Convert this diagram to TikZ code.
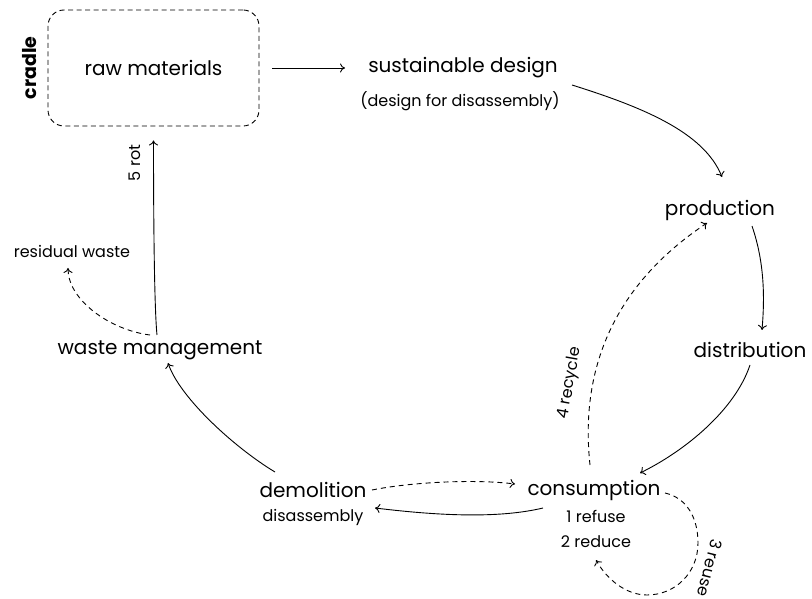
\documentclass[tikz,border=0pt]{standalone}
\usepackage{fontspec}
\setmainfont{Poppins}
\usetikzlibrary{arrows.meta,calc}
\begin{document}
\begin{tikzpicture}[x=1pt,y=1pt,
  lbl/.style={inner sep=2pt,font=\fontsize{20}{22}\selectfont},
  sml/.style={inner sep=2pt,font=\fontsize{16}{18}\selectfont},
  arr/.style={-{To[length=5pt,width=9pt]},line width=0.9pt},
  dsh/.style={arr,dash pattern=on 5pt off 4pt}]
\useasboundingbox (0,0) rectangle (812,598);
\node[lbl,draw,dash pattern=on 5pt off 3.5pt,line width=0.9pt,rounded corners=16pt,minimum width=211pt,minimum height=116pt] (rm) at (153.5,530) {raw materials};
\node[rotate=90,font=\fontsize{19}{21}\selectfont\bfseries] (cr) at (30,530) {cradle};
\node[lbl] (sd) at (463,530) {sustainable design};
\node[sml] (sdd) at (460,497) {(design for disassembly)};
\node[lbl] (pr) at (720,388) {production};
\node[lbl] (di) at (750,248) {distribution};
\node[lbl] (co) at (594,108) {consumption};
\node[sml] (co1) at (596,82) {1 refuse};
\node[sml] (co2) at (596,56) {2 reduce};
\node[lbl] (de) at (313,108) {demolition};
\node[sml] (de2) at (313,81) {disassembly};
\node[lbl] (wm) at (160,248) {waste management};
\node[sml] (rw) at (72,347) {residual waste};

\draw[arr] ([xshift=13]rm.east) -- ([xshift=-118]sd.center);
\draw[arr] ([shift={(109,-17)}]sd.center) .. controls +(70,-22) and +(-18,45) .. ([shift={(2,33)}]pr.center);
\draw[arr] ([shift={(32,-16)}]pr.center) .. controls +(12,-35) and +(3,35) .. ([shift={(12,20)}]di.center);
\draw[arr] ([shift={(0,-15)}]di.center) .. controls +(-15,-45) and +(45,22) .. ([shift={(46,17)}]co.center);
\draw[dsh] ([shift={(-4,25)}]co.center) .. controls +(-14,130) and +(-60,-40) .. ([shift={(-13,-13)}]pr.center);
\node[sml,rotate=80] (rc) at (570,215) {4 recycle};
\draw[dsh] ([shift={(71,-3)}]co.center) .. controls +(22,-5) and +(0,25) .. ([shift={(104,-53)}]co.center) coordinate (lp1) .. controls +(0,-30) and +(28,0) .. ([shift={(53,-105)}]co.center) coordinate (lp2) .. controls +(-22,0) and +(10,-18) .. ([shift={(2,-70)}]co.center);
\node[sml,rotate=-104] (ru) at (710,30) {3 reuse};
\node[sml,rotate=90] (rt) at (135,435) {5 rot};
\draw[dsh] ([shift={(59,0)}]de.center) .. controls +(40,8) and +(-40,5) .. ([shift={(-79,6)}]co.center);
\draw[arr] ([shift={(-51,-18)}]co.center) .. controls +(-50,-12) and +(50,-6) .. ([shift={(62,-18)}]de.center);
\draw[arr] ([shift={(-38,18)}]de.center) .. controls +(-40,24) and +(12,-35) .. ([shift={(8,-13)}]wm.center);
\draw[arr] ([shift={(-3,15)}]wm.center) .. controls +(-3,30) and +(0,-60) .. ([yshift=-14]rm.south);
\draw[dsh] ([shift={(-10,15)}]wm.center) .. controls +(-40,5) and +(0,-32) .. ([shift={(-4,-17)}]rw.center);
\end{tikzpicture}
\end{document}
